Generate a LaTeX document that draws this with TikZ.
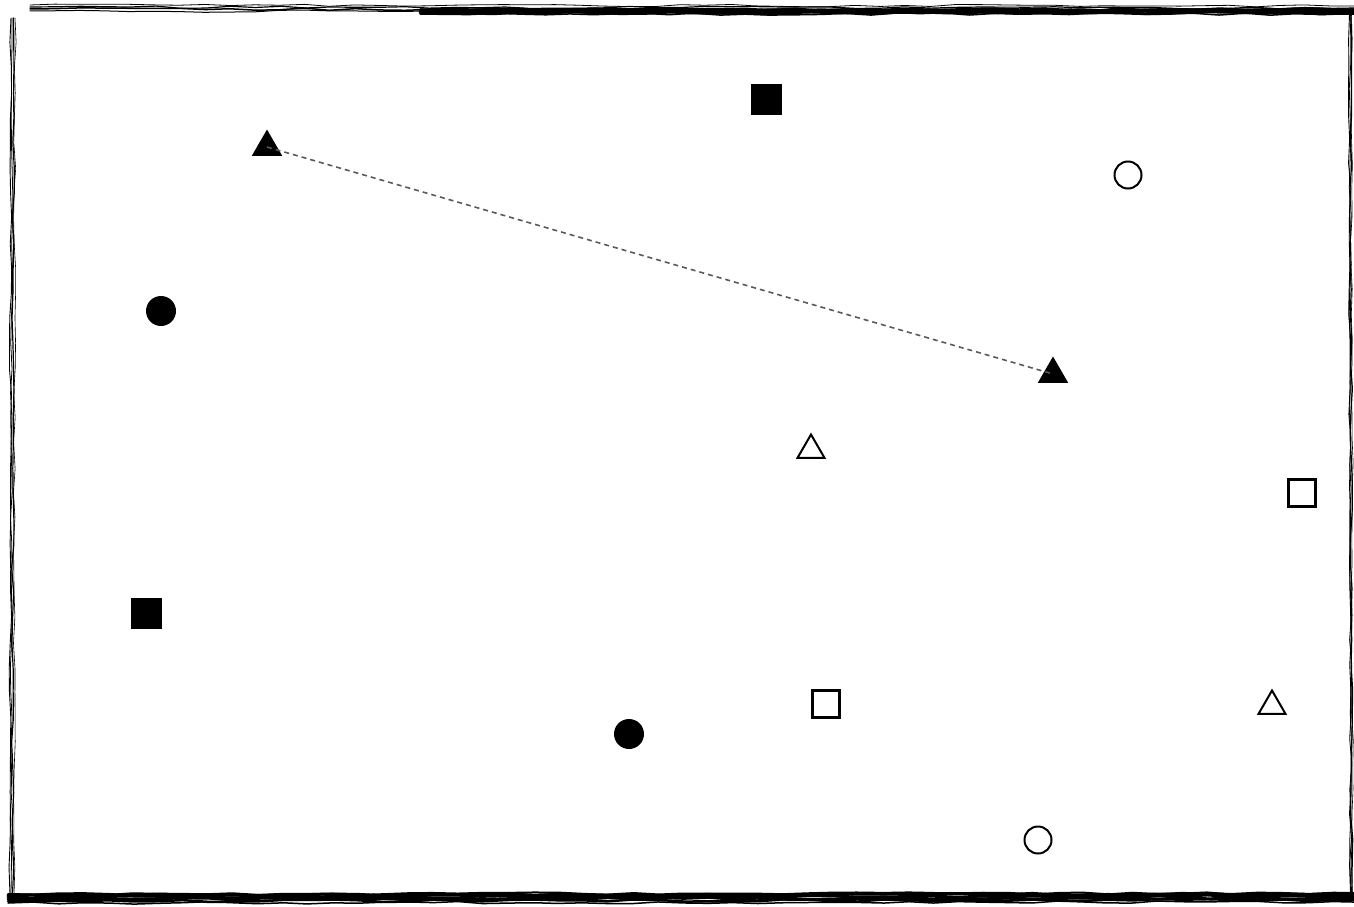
\documentclass[tikz,border=0pt]{standalone}
\usetikzlibrary{shapes.geometric}
\usetikzlibrary{decorations.pathmorphing}

\begin{document}
\begin{tikzpicture}[
  x=1pt,y=-1pt,
  marker/.style={inner sep=0pt,outer sep=0pt,line width=2.4pt},
  fullsq/.style={marker,rectangle,fill=black,minimum size=31pt},
  opensq/.style={marker,rectangle,draw=black,fill=white,minimum size=27pt},
  fulldot/.style={marker,circle,fill=black,minimum size=30pt},
  opendot/.style={marker,circle,draw=black,line width=2pt,minimum size=27pt},
  fulltri/.style={marker,regular polygon,regular polygon sides=3,fill=black,minimum size=35pt},
  opentri/.style={marker,regular polygon,regular polygon sides=3,draw=black,line width=2pt,minimum size=31pt},
  rough/.style={decorate,decoration={random steps,segment length=25pt,amplitude=1.2pt},line cap=round}
]
  \useasboundingbox (0,0) rectangle (1354,907);
  \pgfmathsetseed{11}

  % sketchy frame
  \foreach \d/\w in {0/0.8,1.5/1.2,3/0.6,-1/0.9}{
    \draw[rough,line width=\w pt] (12+\d,18) -- (11+\d,895);
    \draw[rough,line width=\w pt] (1350+0.5*\d,14) -- (1351+0.5*\d,893);
  }
  \foreach \d/\w in {0/1.2,2/1.5,4/1.0,-2/0.8}{
    \draw[rough,line width=\w pt] (30,7+\d) -- (1354,8+\d);
  }
  \foreach \d/\w in {0/3,2/3,4/3,6/2.5,-1/2,8/1.5}{
    \draw[rough,line width=\w pt] (420,10+0.5*\d) -- (1354,10+0.5*\d);
    \draw[rough,line width=\w pt] (8,895+\d) -- (1354,894+\d);
  }

  % markers
  \node[fullsq]  (sqA)  at (766,99)   {};
  \node[fullsq]  (sqB)  at (146,613)  {};
  \node[opensq]  (sqC)  at (1302,493) {};
  \node[opensq]  (sqD)  at (826,704)  {};
  \node[fulldot] (dotA) at (161,311)  {};
  \node[fulldot] (dotB) at (629,734)  {};
  \node[opendot] (dotC) at (1128,175) {};
  \node[opendot] (dotD) at (1038,840) {};
  \node[fulltri] (triA) at (267,147)  {};
  \node[fulltri] (triB) at (1053,374) {};
  \node[opentri] (triC) at (811,450)  {};
  \node[opentri] (triD) at (1272,706) {};

  \draw[black!65,line width=1.6pt,dash pattern=on 5pt off 4pt] (triA.center) -- (triB.center);
\end{tikzpicture}
\end{document}
